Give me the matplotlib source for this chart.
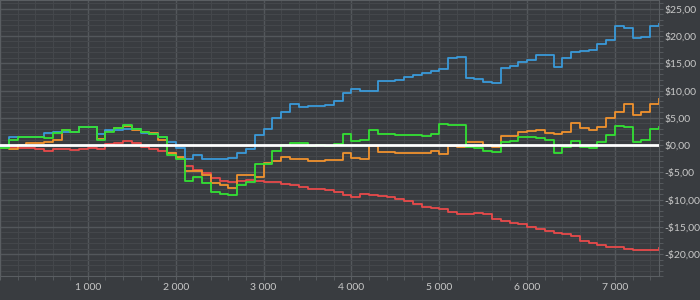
import matplotlib
matplotlib.use("Agg")
import matplotlib.pyplot as plt
from matplotlib.ticker import MultipleLocator, FuncFormatter

plt.rcParams['font.family'] = ['Lato', 'DejaVu Sans']

# === Data (every 100 units) ===
x = list(range(0, 7600, 100))

blue = [-0.3, 1.4, 1.4, 1.4, 1.4, 2.2, 2.4, 2.4, 2.4, 3.3,
        3.4, 2.0, 2.8, 2.8, 3.0, 2.9, 2.2, 2.0, 1.5, 0.6,
        -0.6, -2.5, -1.8, -2.5, -2.6, -2.6, -2.3, -1.5, -0.8, 1.9,
        3.0, 5.0, 6.1, 7.5, 7.0, 7.2, 7.2, 7.3, 8.0, 9.5,
        10.2, 9.9, 10.0, 11.7, 11.7, 12.0, 12.5, 12.8, 13.2, 13.6,
        14.0, 16.0, 16.2, 12.3, 12.2, 11.5, 11.4, 14.2, 14.5, 15.2,
        15.6, 16.5, 16.6, 14.4, 16.0, 17.1, 17.2, 17.5, 18.6, 19.2,
        21.8, 21.5, 19.7, 19.8, 21.8, 22.2]

orange = [-0.5, -0.7, 0.0, 0.3, 0.3, 0.6, 1.0, 2.7, 2.4, 3.3,
          3.3, 1.2, 2.6, 3.2, 3.5, 2.8, 2.4, 2.2, 0.9, -1.5,
          -2.1, -4.8, -4.8, -5.5, -7.0, -7.3, -7.8, -5.5, -5.5, -5.8,
          -3.3, -3.0, -2.2, -2.6, -2.6, -2.9, -2.9, -2.8, -2.8, -1.5,
          -2.4, -2.6, -0.2, -1.2, -1.2, -1.4, -1.5, -1.5, -1.4, -1.0,
          -1.6, -0.2, -0.3, 0.6, 0.5, 0.0, -0.4, 1.6, 1.7, 2.4,
          2.6, 2.7, 2.3, 2.1, 2.4, 4.0, 3.2, 2.7, 3.3, 5.0,
          6.0, 7.5, 5.5, 6.0, 7.5, 8.5]

green = [-0.5, 0.9, 1.5, 1.5, 1.5, 1.3, 2.2, 2.7, 2.4, 3.3,
         3.3, 1.0, 2.4, 3.2, 3.7, 3.0, 2.4, 2.1, 1.5, -1.8,
         -2.6, -6.5, -5.8, -7.0, -8.6, -9.0, -9.1, -7.3, -6.7, -3.5,
         -3.5, -1.0, 0.1, 0.3, 0.3, -0.1, 0.0, -0.1, 0.2, 2.1,
         0.8, 0.9, 2.7, 2.1, 2.0, 1.8, 1.8, 1.9, 1.7, 2.0,
         3.8, 3.7, 3.6, -0.3, -0.6, -1.0, -1.3, 0.6, 0.8, 1.4,
         1.5, 1.3, 1.0, -1.4, -0.3, 0.7, -0.3, -0.6, 0.6, 1.8,
         3.5, 3.3, 0.5, 1.0, 3.0, 3.4]

red = [-0.3, -0.3, -0.5, -0.6, -0.8, -1.0, -0.7, -0.8, -0.9, -0.8,
       -0.6, -0.7, 0.2, 0.3, 0.8, 0.3, -0.4, -0.7, -1.0, -1.5,
       -2.3, -3.9, -4.5, -5.2, -6.0, -6.6, -6.7, -6.5, -6.4, -6.5,
       -6.7, -6.8, -7.2, -7.4, -7.7, -8.0, -8.1, -8.3, -8.6, -9.2,
       -9.6, -9.0, -9.2, -9.3, -9.6, -9.9, -10.3, -10.8, -11.4, -11.6,
       -11.8, -12.2, -12.6, -12.7, -12.5, -12.6, -13.5, -13.9, -14.2, -14.4,
       -15.0, -15.3, -15.8, -16.2, -16.3, -16.6, -17.5, -17.9, -18.3, -18.6,
       -18.6, -19.0, -19.2, -19.2, -19.3, -18.8]

series = [(red, "#e84a4a"), (orange, "#f0922e"), (blue, "#3a9ad9"), (green, "#33e033")]

# === Style ===
BG = "#393c40"
TXT = "#c8c8c8"

fig = plt.figure(figsize=(7, 3), dpi=100, facecolor=BG)
ax = fig.add_axes([0.0, 0.08, 0.9414, 0.92], facecolor=BG)

for vals, col in series:
    ax.plot(x, vals, drawstyle="steps-post", color=col, linewidth=1.3, zorder=3)

ax.axhline(0, color="white", linewidth=2, zorder=4)

ax.set_xlim(0, 7500)
ax.set_ylim(-24, 26.6)

ax.xaxis.set_major_locator(MultipleLocator(1000))
ax.xaxis.set_minor_locator(MultipleLocator(200))
ax.yaxis.set_major_locator(MultipleLocator(5))
ax.yaxis.set_minor_locator(MultipleLocator(1))

ax.grid(which="major", color="#53575b", linewidth=1.0, zorder=0)
ax.grid(which="minor", color="#44474b", linewidth=0.8, zorder=0)
ax.set_axisbelow(True)

def fmt_x(v, pos):
    if v == 0:
        return ""
    return f"{int(v):,}".replace(",", " ")

def fmt_y(v, pos):
    s = f"${abs(v):.2f}".replace(".", ",")
    return "-" + s if v < 0 else s

ax.xaxis.set_major_formatter(FuncFormatter(fmt_x))
ax.yaxis.set_major_formatter(FuncFormatter(fmt_y))

ax.yaxis.tick_right()
ax.tick_params(axis="both", which="both", colors="#5a5e62", labelcolor=TXT, labelsize=7.5)
ax.tick_params(axis="both", which="major", length=3, pad=2)
ax.tick_params(axis="both", which="minor", length=3)
ax.tick_params(axis="y", which="major", pad=1)

for sp in ax.spines.values():
    sp.set_color("#5a5e62")

fig.savefig("out.png", dpi=100, facecolor=BG)
